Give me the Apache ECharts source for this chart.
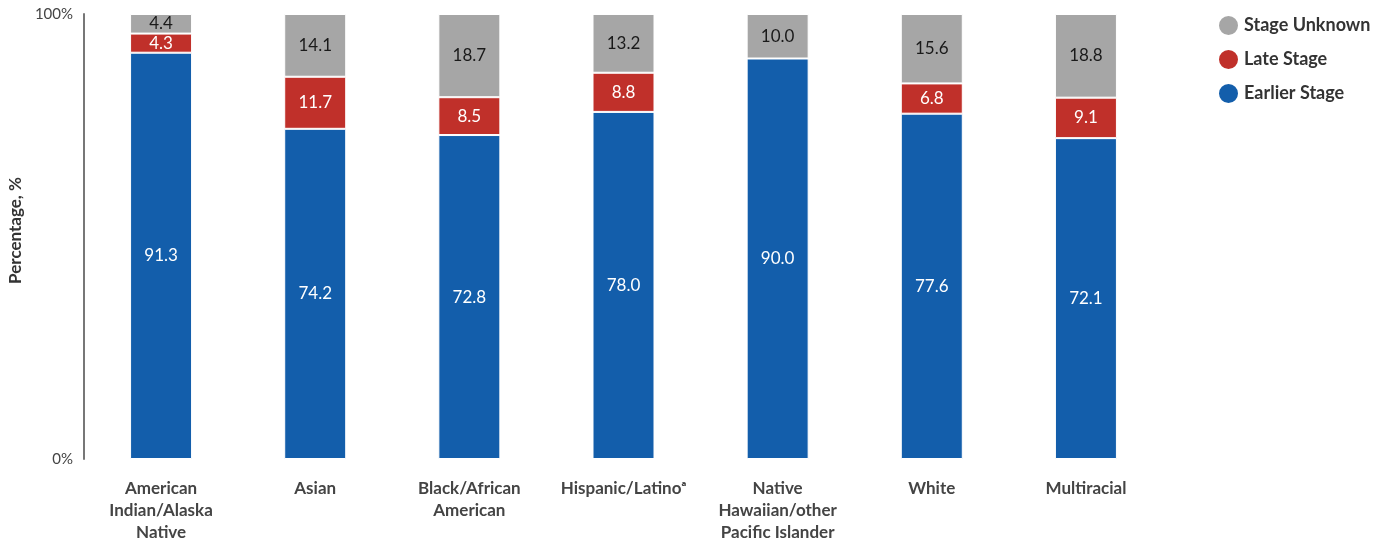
<!DOCTYPE html>
<html><head><meta charset="utf-8">
<script src="https://cdn.jsdelivr.net/npm/echarts@6/dist/echarts.min.js"></script>
<style>html,body{margin:0;padding:0;background:#fff}#c{width:1379px;height:539px}</style>
</head><body><div id="c"></div>
<script>
const categories = ["American\nIndian/Alaska\nNative","Asian","Black/African\nAmerican","Hispanic/Latino\u1d43","Native\nHawaiian/other\nPacific Islander","White","Multiracial"];
const earlier = [91.3,74.2,72.8,78.0,90.0,77.6,72.1];
const late = [4.3,11.7,8.5,8.8,0,6.8,9.1];
const unknown = [4.4,14.1,18.7,13.2,10.0,15.6,18.8];
const yTicks = [0,100];

const FONT = 'Lato, "Open Sans", sans-serif';
const chart = echarts.init(document.getElementById('c'));
function lbl(color){return {show:true,position:'inside',color:color,fontSize:17,fontFamily:FONT,
  formatter:p=>p.value>0?p.value.toFixed(1):''};}
chart.setOption({
  animation:false,
  textStyle:{fontFamily:FONT},
  grid:{left:84,right:216,top:14,bottom:80,containLabel:false,outerBoundsMode:'none'},
  legend:{orient:'vertical',left:1217,top:14,padding:0,icon:'circle',itemWidth:21,itemHeight:21,itemGap:11,
    textStyle:{fontSize:18,fontWeight:'bold',color:'#333',fontFamily:FONT},
    data:['Stage Unknown','Late Stage','Earlier Stage']},
  xAxis:{type:'category',data:categories,axisLine:{show:false},axisTick:{show:false},
    axisLabel:{interval:0,margin:27,fontSize:17,fontWeight:'bold',color:'#444',lineHeight:22,verticalAlign:'top',padding:[-8,0,0,0]}},
  yAxis:{type:'value',min:yTicks[0],max:yTicks[1],interval:100,name:'Percentage, %',nameLocation:'middle',nameGap:58,
    nameTextStyle:{fontSize:17,fontWeight:'bold',color:'#333',padding:[0,0,0,12]},
    axisLine:{show:true,lineStyle:{color:'#777',width:2}},axisTick:{show:false},splitLine:{show:false},
    axisLabel:{formatter:'{value}%',fontSize:15,color:'#444',margin:11}},
  series:[
    {name:'Earlier Stage',type:'bar',stack:'s',data:earlier,barWidth:62,itemStyle:{color:'#135eab',borderColor:'#fff',borderWidth:1},label:lbl('#fff')},
    {name:'Late Stage',type:'bar',stack:'s',data:late,barWidth:62,itemStyle:{color:'#c0302a',borderColor:'#fff',borderWidth:1},label:lbl('#fff')},
    {name:'Stage Unknown',type:'bar',stack:'s',data:unknown,barWidth:62,itemStyle:{color:'#a6a6a6',borderColor:'#fff',borderWidth:1},label:lbl('#1a1a1a')}
  ]
});
</script></body></html>
